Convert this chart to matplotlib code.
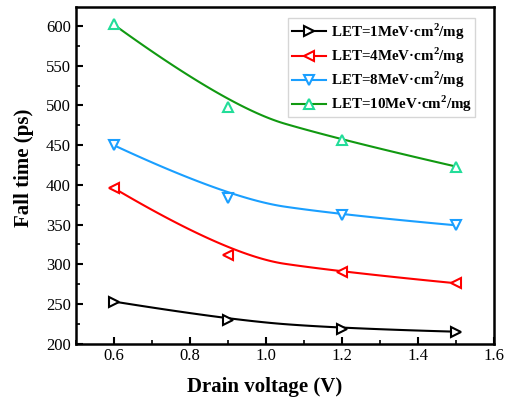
import numpy as np
import matplotlib
matplotlib.use("Agg")
import matplotlib.pyplot as plt

voltage = [0.6, 0.9, 1.2, 1.5]
let1 = [253, 230, 219, 215]
let4 = [396, 311, 290, 276]
let8 = [450, 383, 362, 349]
let10 = [602, 498, 456, 423]
labels = ["LET=1MeV·cm$^{\\mathbf{2}}$/mg", "LET=4MeV·cm$^{\\mathbf{2}}$/mg",
          "LET=8MeV·cm$^{\\mathbf{2}}$/mg", "LET=10MeV·cm$^{\\mathbf{2}}$/mg"]

plt.rcParams['font.family'] = ['Liberation Serif', 'DejaVu Serif']
plt.rcParams['mathtext.fontset'] = 'custom'
plt.rcParams['mathtext.rm'] = 'Liberation Serif'
plt.rcParams['mathtext.bf'] = 'Liberation Serif:bold'


def bspline2(x, y, n=60):
    """Clamped quadratic B-spline using the data points as control points."""
    P = np.column_stack([np.asarray(x, float), np.asarray(y, float)])
    k = len(P)
    segs = []
    for i in range(1, k - 1):
        a = P[0] if i == 1 else (P[i - 1] + P[i]) / 2
        c = P[-1] if i == k - 2 else (P[i] + P[i + 1]) / 2
        b = P[i]
        t = np.linspace(0, 1, n)[:, None]
        segs.append((1 - t) ** 2 * a + 2 * t * (1 - t) * b + t ** 2 * c)
    pts = np.vstack(segs)
    return pts[:, 0], pts[:, 1]


fig = plt.figure(figsize=(5.11, 4.0), dpi=100)
ax = fig.add_axes([0.148, 0.141, 0.819, 0.8415])

series = [
    (let1, 'black', 'black', '>'),
    (let4, 'red', 'red', '<'),
    (let8, '#1a9fff', '#1a9fff', 'v'),
    (let10, '#119911', '#22dd99', '^'),
]
handles = []
for (vals, lc, mc, mk), lab in zip(series, labels):
    cx, cy = bspline2(voltage, vals)
    ax.plot(cx, cy, color=lc, lw=1.5, zorder=2)
    ax.plot(voltage, vals, linestyle='none', marker=mk, markersize=7,
            markerfacecolor='white', markeredgecolor=mc, markeredgewidth=1.5, zorder=3)
    h, = ax.plot([], [], color=lc, lw=1.5, marker=mk, markersize=7,
                 markerfacecolor='white', markeredgecolor=mc, markeredgewidth=1.5)
    handles.append(h)

ax.set_xlim(0.5, 1.6)
ax.set_ylim(200, 624)
ax.set_xticks([0.6, 0.8, 1.0, 1.2, 1.4, 1.6])
ax.set_xticks(np.arange(0.5, 1.61, 0.1), minor=True)
ax.set_yticks(np.arange(200, 601, 50))
ax.set_yticks(np.arange(200, 601, 25), minor=True)
ax.tick_params(which='both', direction='in', top=False, right=False, labelsize=12)
ax.tick_params(which='major', length=5, width=1.5)
ax.tick_params(which='minor', length=3, width=1.2)
for sp in ax.spines.values():
    sp.set_linewidth(1.8)

ax.set_xlabel('Drain voltage (V)', fontsize=15, fontweight='bold')
ax.set_ylabel('Fall time (ps)', fontsize=15, fontweight='bold')
ax.xaxis.set_label_coords(0.451, -0.1)
ax.yaxis.set_label_coords(-0.10, 0.523)

leg = ax.legend(handles, labels, loc='upper right', bbox_to_anchor=(0.955, 0.967),
                prop={'weight': 'bold', 'size': 10.8}, frameon=True, fancybox=False,
                handlelength=2.3, handletextpad=0.3, labelspacing=0.25, borderpad=0.22,
                borderaxespad=0)
leg.get_frame().set_edgecolor('#cccccc')
leg.get_frame().set_linewidth(1.0)

fig.savefig('out.png', dpi=100)
